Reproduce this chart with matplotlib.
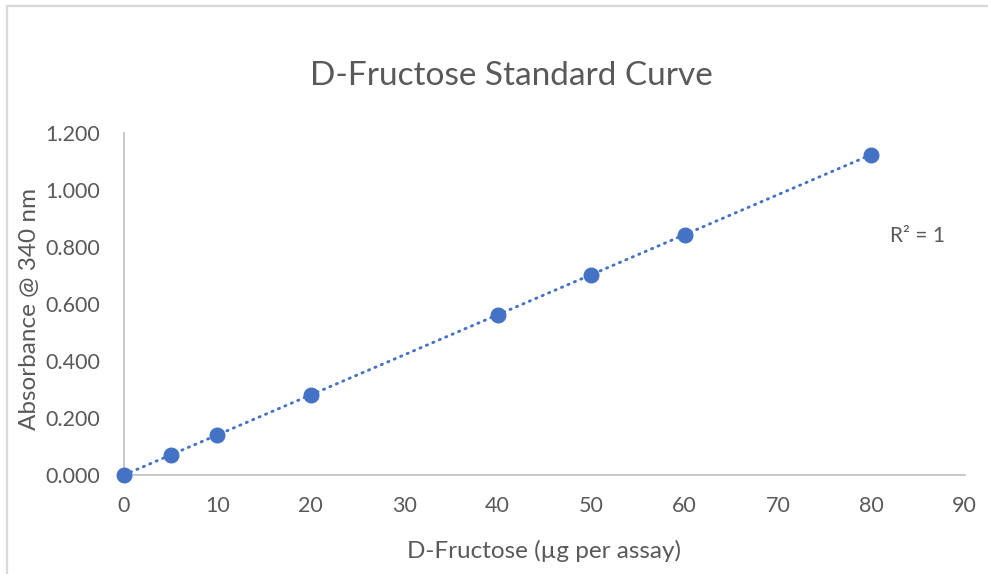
import numpy as np
import matplotlib.pyplot as plt
from matplotlib.lines import Line2D

# standard curve readings
fructose_ug = [0, 5, 10, 20, 40, 50, 60, 80]
absorbance = [0.000, 0.070, 0.141, 0.281, 0.562, 0.703, 0.843, 1.124]
x_ticks = [0, 10, 20, 30, 40, 50, 60, 70, 80, 90]
y_ticks = [0.0, 0.2, 0.4, 0.6, 0.8, 1.0, 1.2]

blue = '#4472C4'
grey_txt = '#595959'
plt.rcParams['font.family'] = ['Lato', 'DejaVu Sans']

fig = plt.figure(figsize=(9.88, 5.74), dpi=100)
ax = fig.add_axes([0.1255, 0.1725, 0.851, 0.5958])

# linear trendline
k, b = np.polyfit(fructose_ug, absorbance, 1)
xs = np.array([fructose_ug[0], fructose_ug[-1]])
ax.plot(xs, k * xs + b, color=blue, lw=2.1, linestyle=(0, (0.4, 2.0)),
        dash_capstyle='round', zorder=2)
ax.plot(fructose_ug, absorbance, 'o', color=blue, markersize=10.5, zorder=3,
        clip_on=False)

ax.set_xlim(0, 90)
ax.set_ylim(0, 1.2)
ax.set_xticks(x_ticks)
ax.set_yticks(y_ticks)
ax.set_yticklabels(['%.3f' % v for v in y_ticks])
ax.tick_params(length=0, labelsize=15.5, labelcolor=grey_txt)
ax.tick_params(axis='y', pad=17)
ax.tick_params(axis='x', pad=15)
for s in ['top', 'right']:
    ax.spines[s].set_visible(False)
for s in ['left', 'bottom']:
    ax.spines[s].set_color('#bfbfbf')
    ax.spines[s].set_linewidth(1.2)

ax.set_xlabel('D-Fructose (µg per assay)', fontsize=17.5, color=grey_txt)
ax.set_ylabel('Absorbance @ 340 nm', fontsize=17.5, color=grey_txt)
ax.xaxis.set_label_coords(0.5, -0.19)
ax.yaxis.set_label_coords(-0.1, 0.485)
fig.text(0.518, 0.868, 'D-Fructose Standard Curve', ha='center', va='center',
         fontsize=24, color=grey_txt)
ax.text(82.0, 0.838, 'R² = 1', fontsize=15, color=grey_txt, va='center')

# chart frame (left and top edges visible)
fig.lines.append(Line2D([6.5 / 988, 6.5 / 988], [0, 1 - 5.5 / 574], transform=fig.transFigure,
                        color='#d9d9d9', lw=1.6))
fig.lines.append(Line2D([6.5 / 988, 1], [1 - 5.5 / 574, 1 - 5.5 / 574], transform=fig.transFigure,
                        color='#d9d9d9', lw=1.6))

fig.savefig('out.png', dpi=100)
